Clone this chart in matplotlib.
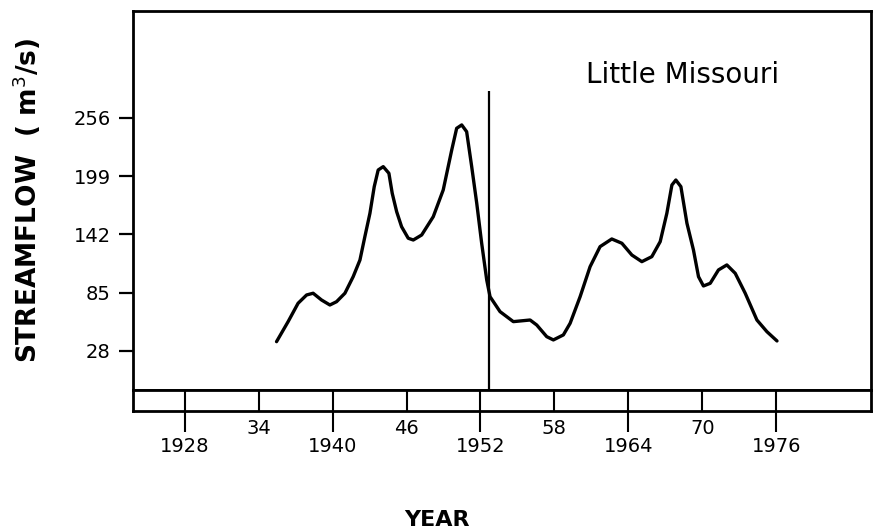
import numpy as np
import matplotlib
matplotlib.use('Agg')
import matplotlib.pyplot as plt

# streamflow
years = [1935.45, 1936.39, 1937.2, 1937.89, 1938.42, 1939.1, 1939.78, 1940.32,
         1941.0, 1941.67, 1942.22, 1942.62, 1943.03, 1943.38, 1943.7, 1944.11,
         1944.57, 1944.84, 1945.2, 1945.6, 1946.14, 1946.55, 1947.23, 1948.17,
         1948.98, 1949.67, 1950.07, 1950.48, 1950.88, 1951.29, 1951.7, 1952.1,
         1952.51, 1952.78, 1953.59, 1954.67, 1956.03, 1956.57, 1957.38, 1957.92,
         1958.73, 1959.28, 1960.09, 1960.9, 1961.71, 1962.66, 1963.48, 1964.29,
         1965.1, 1965.91, 1966.59, 1967.13, 1967.54, 1967.86, 1968.27, 1968.76,
         1969.29, 1969.7, 1970.1, 1970.65, 1971.32, 1972.0, 1972.68, 1973.49,
         1974.44, 1975.25, 1976.07]
flow = [37.1, 56.7, 74.7, 82.8, 84.5, 77.9, 73.0, 76.2,
        84.5, 100.7, 117.0, 139.9, 162.7, 188.8, 205.1, 208.4,
        201.9, 182.3, 164.3, 149.6, 138.3, 136.6, 141.5, 159.4,
        185.6, 224.7, 245.9, 249.2, 242.6, 208.4, 172.5, 133.4,
        97.5, 81.1, 66.5, 56.7, 58.3, 53.4, 42.0, 38.8,
        43.7, 55.1, 81.1, 110.5, 130.1, 137.6, 133.4, 121.9,
        115.4, 120.3, 135.0, 162.7, 190.4, 195.3, 188.8, 153.0,
        126.8, 100.7, 91.6, 94.2, 107.3, 112.2, 104.0, 84.5,
        58.3, 46.9, 37.8]

yticks = [28, 85, 142, 199, 256]
major_years = [1928, 1940, 1952, 1964, 1976]
minor_years = [1934, 1946, 1958, 1970]
minor_labels = ['34', '46', '58', '70']
break_year = 1952.7

fig = plt.figure(figsize=(8.74, 5.32), dpi=100)
ax = fig.add_axes([133/874, 1-390/532, 738/874, 379/532])
strip = fig.add_axes([133/874, 1-411/532, 738/874, 21/532], sharex=ax)

ax.plot(years, flow, color='black', lw=2.4, solid_capstyle='round', solid_joinstyle='round')
ax.vlines(break_year, -10.2, 282, color='black', lw=1.6)

ax.set_xlim(1923.8, 1983.7)
ax.set_ylim(-10.2, 360.7)
ax.set_yticks(yticks)
ax.set_yticklabels([str(v) for v in yticks], fontsize=14)
ax.tick_params(axis='y', direction='out', length=10, width=1.6, pad=6)
ax.tick_params(axis='x', bottom=False, labelbottom=False)
for s in ax.spines.values():
    s.set_linewidth(2)

ax.text(0.745, 0.83, 'Little Missouri', transform=ax.transAxes, fontsize=20,
        ha='center', va='center')

# year strip under the plot
strip.set_ylim(0, 1)
strip.set_yticks([])
strip.vlines(major_years + minor_years, 0, 1, color='black', lw=1.5)
strip.set_xticks(major_years)
strip.set_xticklabels([str(y) for y in major_years], fontsize=14)
strip.set_xticks(minor_years, minor=True)
strip.set_xticklabels(minor_labels, minor=True, fontsize=14)
strip.tick_params(axis='x', which='major', direction='out', length=15, width=1.5, pad=4)
strip.tick_params(axis='x', which='minor', length=0, pad=6)
for s in strip.spines.values():
    s.set_linewidth(2)

fig.text(27/874, 1-200/532, 'STREAMFLOW  ( m$^3$/s)', rotation=90, fontsize=19,
         fontweight='bold', ha='center', va='center')
fig.text(437/874, 1-520/532, 'YEAR', fontsize=16, fontweight='bold',
         ha='center', va='center')

fig.savefig('out.png', dpi=100)
